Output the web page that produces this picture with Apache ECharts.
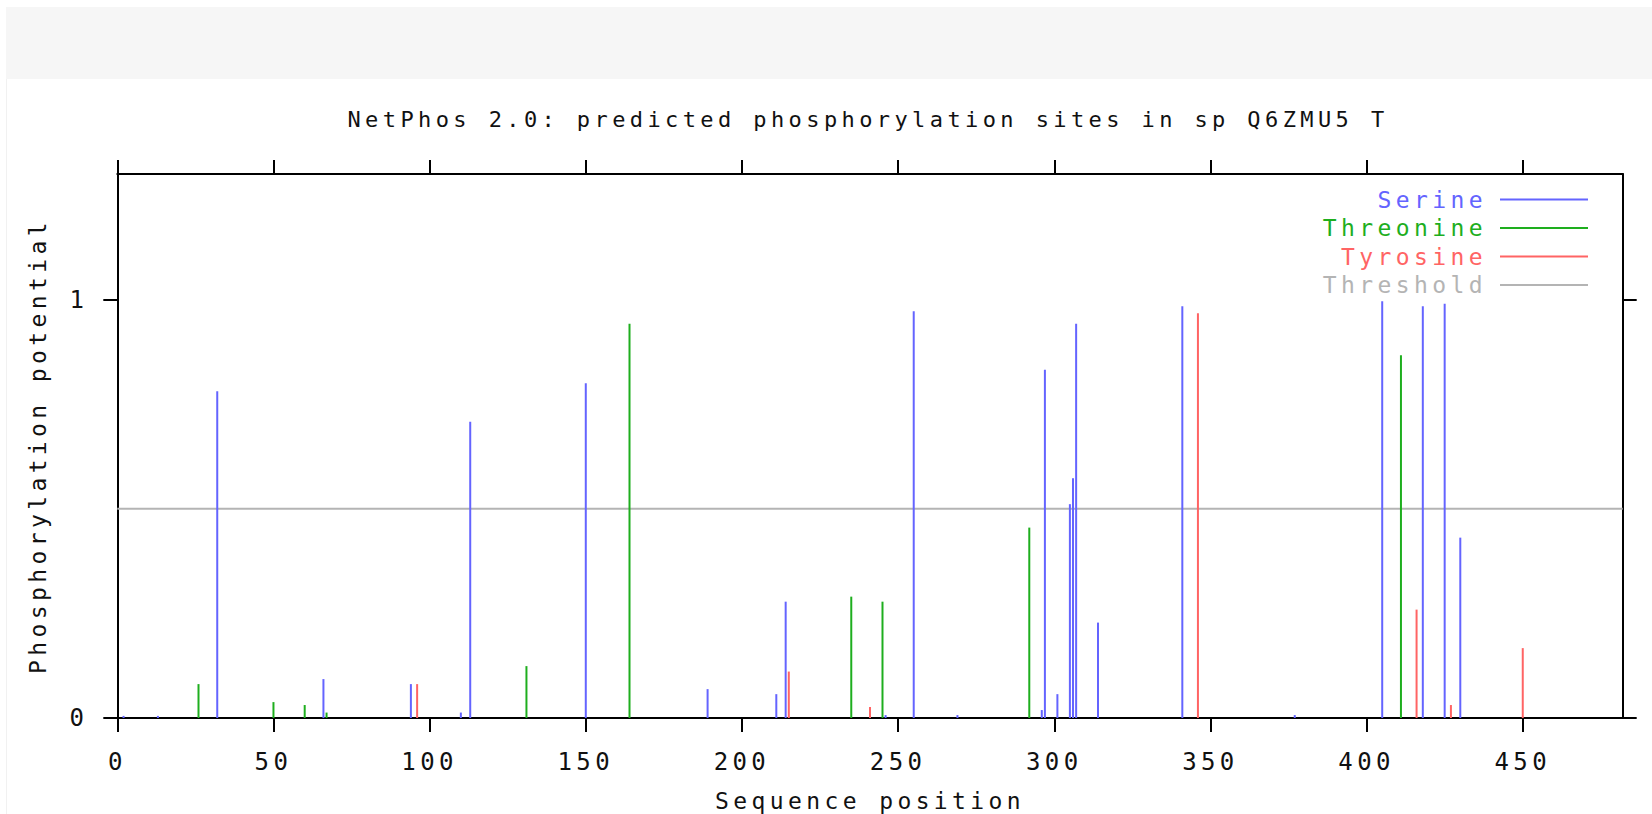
<!DOCTYPE html>
<html>
<head>
<meta charset="utf-8">
<title>NetPhos 2.0</title>
<script src="https://cdn.jsdelivr.net/npm/echarts@6.0.0/dist/echarts.min.js"></script>
<style>
  html, body { margin: 0; padding: 0; background: #fff; }
  #chart { width: 1652px; height: 814px; }
  /* the original uses a wide bitmap font */
  #chart text { letter-spacing: 4.4px; }
</style>
</head>
<body>
<div id="chart"></div>
<script>
const titleText = 'NetPhos 2.0: predicted phosphorylation sites in sp Q6ZMU5 T';
const seqLength = 482;
const threshold = 0.5;
const xTicks = [0, 50, 100, 150, 200, 250, 300, 350, 400, 450];
const yTicks = [0, 1];

const serinePos = [2, 13, 32, 66, 94, 110, 113, 150, 189, 211, 214, 246, 255, 269, 296, 297, 301, 305, 306, 307, 314, 341, 377, 405, 418, 425, 430];
const serineVal = [0.005, 0.005, 0.781, 0.093, 0.081, 0.013, 0.708, 0.800, 0.069, 0.057, 0.278, 0.007, 0.972, 0.007, 0.019, 0.832, 0.057, 0.511, 0.573, 0.942, 0.228, 0.984, 0.007, 0.996, 0.984, 0.990, 0.431];

const threoninePos = [26, 50, 60, 67, 131, 164, 235, 245, 292, 411];
const threonineVal = [0.081, 0.038, 0.031, 0.013, 0.124, 0.942, 0.290, 0.278, 0.455, 0.867];

const tyrosinePos = [96, 215, 241, 346, 416, 427, 450];
const tyrosineVal = [0.081, 0.111, 0.026, 0.967, 0.259, 0.031, 0.167];

const FONT = '"DejaVu Sans Mono", monospace';
const colors = { serine: '#6464ff', threonine: '#1eae1e', tyrosine: '#ff6464', threshold: '#b4b4b4' };

function pairs(pos, val) {
  return pos.map((p, i) => [p, val[i]]);
}

const chart = echarts.init(document.getElementById('chart'), null, { renderer: 'svg' });

const axisLine = { show: true, onZero: false, lineStyle: { color: '#000', width: 2 } };
const axisTick = (vals) => ({ show: true, inside: false, length: 14, customValues: vals, lineStyle: { color: '#000', width: 2 } });

chart.setOption({
  animation: false,
  backgroundColor: '#fff',
  graphic: [
    { type: 'rect', silent: true, z: -10, shape: { x: 6, y: 7, width: 1646, height: 72 }, style: { fill: '#f6f6f6' } },
    { type: 'rect', silent: true, z: -10, shape: { x: 6, y: 79, width: 1, height: 735 }, style: { fill: '#f1f1f1' } },
    {
      type: 'text', x: 868, y: 119,
      style: { text: titleText, font: '22px ' + FONT, fill: '#111', align: 'center', textAlign: 'center', verticalAlign: 'middle', textVerticalAlign: 'middle' }
    }
  ],
  grid: { left: 117.3, right: 29.3, top: 174, bottom: 96, outerBoundsMode: 'none' },
  legend: {
    orient: 'vertical', right: 59, top: 183, align: 'right',
    itemWidth: 88, itemHeight: 2, itemGap: 5.5, selectedMode: false,
    textStyle: { fontFamily: FONT, fontSize: 23, padding: [0, 8, 0, 0] },
    data: [
      { name: 'Serine', icon: 'rect', textStyle: { color: colors.serine } },
      { name: 'Threonine', icon: 'rect', textStyle: { color: colors.threonine } },
      { name: 'Tyrosine', icon: 'rect', textStyle: { color: colors.tyrosine } },
      { name: 'Threshold', icon: 'rect', textStyle: { color: colors.threshold } }
    ]
  },
  xAxis: [
    {
      type: 'value', position: 'bottom', min: 0, max: seqLength,
      name: 'Sequence position', nameLocation: 'middle', nameGap: 71,
      nameTextStyle: { fontFamily: FONT, fontSize: 23, color: '#111' },
      axisLine: axisLine, axisTick: axisTick(xTicks),
      axisLabel: { customValues: xTicks, margin: 32, fontFamily: FONT, fontSize: 24, color: '#111' },
      splitLine: { show: false }
    },
    {
      type: 'value', position: 'top', min: 0, max: seqLength,
      axisLine: axisLine, axisTick: axisTick(xTicks),
      axisLabel: { show: false }, splitLine: { show: false }
    }
  ],
  yAxis: [
    {
      type: 'value', position: 'left', min: 0, max: 1.3,
      name: 'Phosphorylation potential', nameLocation: 'middle', nameGap: 68,
      nameTextStyle: { fontFamily: FONT, fontSize: 23, color: '#111' },
      axisLine: axisLine, axisTick: axisTick(yTicks),
      axisLabel: { customValues: yTicks, margin: 29, fontFamily: FONT, fontSize: 24, color: '#111' },
      splitLine: { show: false }
    },
    {
      type: 'value', position: 'right', min: 0, max: 1.3,
      axisLine: axisLine, axisTick: axisTick(yTicks),
      axisLabel: { show: false }, splitLine: { show: false }
    }
  ],
  series: [
    {
      name: 'Threshold', type: 'line', z: 1,
      data: [[0, threshold], [seqLength, threshold]],
      symbol: 'none', lineStyle: { color: colors.threshold, width: 2 }, itemStyle: { color: colors.threshold }
    },
    {
      name: 'Serine', type: 'bar', barWidth: 2, barGap: '-100%',
      data: pairs(serinePos, serineVal), itemStyle: { color: colors.serine }
    },
    {
      name: 'Threonine', type: 'bar', barWidth: 2, barGap: '-100%',
      data: pairs(threoninePos, threonineVal), itemStyle: { color: colors.threonine }
    },
    {
      name: 'Tyrosine', type: 'bar', barWidth: 2, barGap: '-100%',
      data: pairs(tyrosinePos, tyrosineVal), itemStyle: { color: colors.tyrosine }
    }
  ]
});
</script>
</body>
</html>
